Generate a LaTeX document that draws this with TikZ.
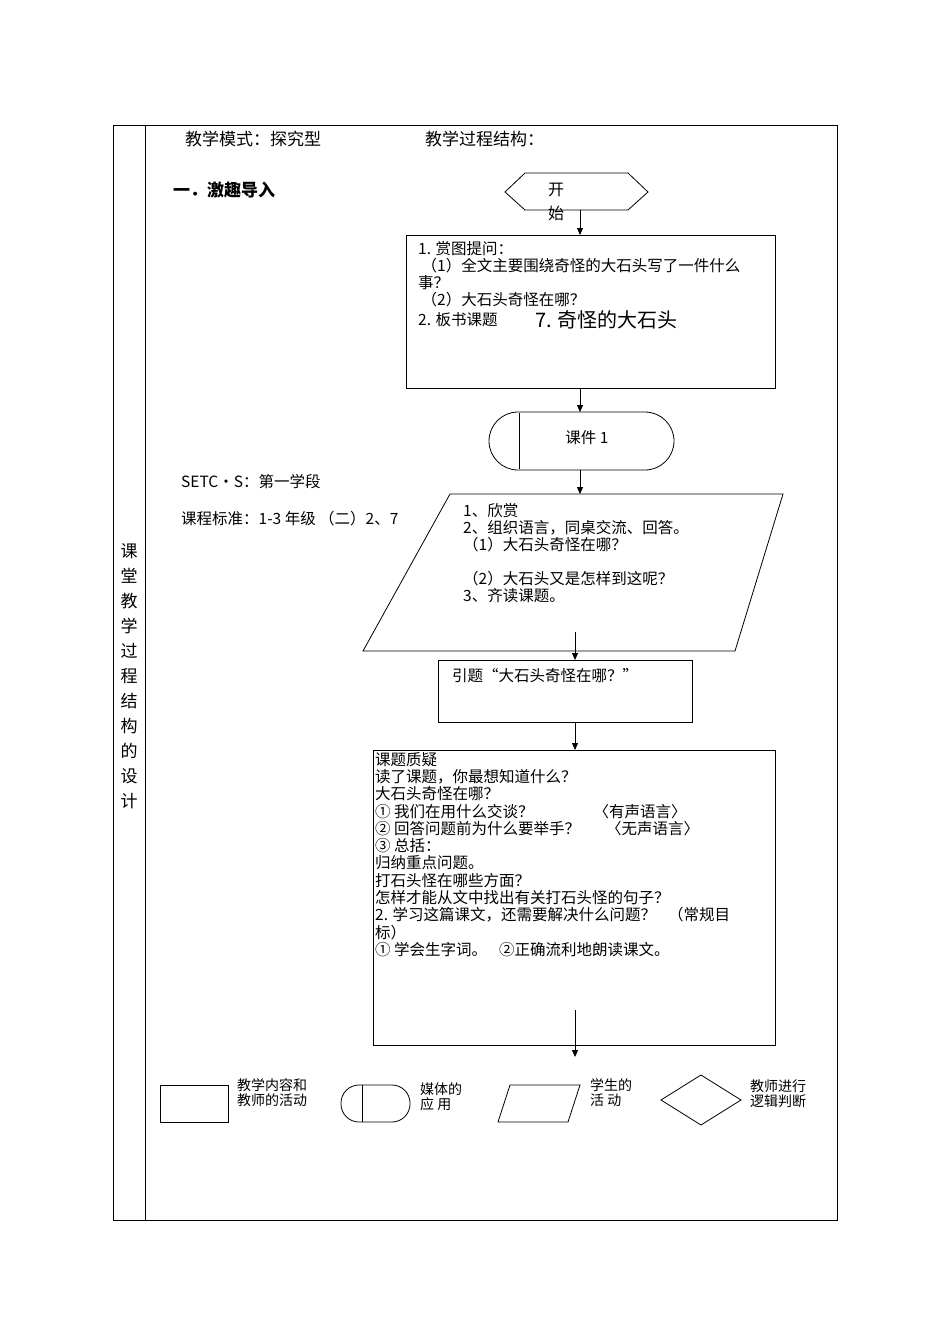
\documentclass[tikz,border=0pt]{standalone}
\usepackage{fontspec}
\setmainfont{Noto Sans CJK SC}
\usetikzlibrary{shapes.geometric,arrows.meta}
\begin{document}
\begin{tikzpicture}[x=1pt,y=-1pt,
  ln/.style={line width=0.8pt},
  arr/.style={ln,-{Triangle[length=7pt,width=6pt]}},
  tx/.style={anchor=north west,inner sep=0pt,font=\fontsize{15.5}{17}\selectfont,align=left},
  lg/.style={anchor=north west,inner sep=0pt,font=\fontsize{14}{15}\selectfont,align=left}]
\useasboundingbox (0,0) rectangle (950,1344);
% table
\draw[ln] (113,125) rectangle (837,1220);
\draw[ln] (145,125) -- (145,1220);
\node[anchor=north,inner sep=0pt,align=center,font=\fontsize{17}{25}\selectfont] (side) at (129,543) {课\\堂\\教\\学\\过\\程\\结\\构\\的\\设\\计};
\node[tx,font=\fontsize{17}{18}\selectfont,anchor=west] (h1) at (185,139) {教学模式：探究型};
\node[tx,font=\fontsize{17}{18}\selectfont,anchor=west] (h2) at (425,139) {教学过程结构：};
\node[tx,font=\bfseries\fontsize{17}{18}\selectfont,anchor=west] (h3) at (173,190) {一．激趣导入};
% start
\draw[ln] (505,192) -- (525,173) -- (628,173) -- (648,192) -- (628,210) -- (525,210) -- cycle;
\node[inner sep=0pt,align=center,font=\fontsize{16}{24}\selectfont] (start) at (556,202) {开\\始};
\coordinate (s0) at (580,210);
% box1
\draw[ln] (406,235) rectangle (775,388);
\coordinate (b1t) at (580,235);
\draw[arr] (s0) -- (b1t);
\node[tx] (t1) at (418,241) {1. 赏图提问：\\\ （1）全文主要围绕奇怪的大石头写了一件什么\\事？\\\ （2）大石头奇怪在哪？\\[3pt]2. 板书课题};
\node[tx,font=\fontsize{20}{20}\selectfont] (t1b) at (535,310) {7. 奇怪的大石头};
% media
\draw[ln,rounded corners=29pt] (489,412) rectangle (674,470);
\draw[ln] (519,413) -- (519,469);
\node[tx,anchor=center] (k1) at (587,438) {课件 1};
\draw[arr] (580,388) -- (580,412);
% parallelogram
\draw[ln] (450,494) -- (783,494) -- (735,651) -- (363,651) -- cycle;
\draw[arr] (580,470) -- (580,494);
\node[tx] (t2) at (463,503) {1、欣赏\\2、组织语言，同桌交流、回答。\\（1）大石头奇怪在哪？\\[17pt]（2）大石头又是怎样到这呢？\\3、齐读课题。};
\node[tx,anchor=west] (l1) at (181,482) {SETC·S：第一学段};
\node[tx,anchor=west] (l2) at (181,519) {课程标准：1-3 年级 （二）2、7};
% box2
\draw[ln] (438,660) rectangle (692,722);
\draw[arr] (575,632) -- (575,660);
\node[tx,anchor=west] (t3) at (452,676) {引题“大石头奇怪在哪？”};
% box3
\draw[ln] (373,750) rectangle (775,1045);
\draw[arr] (575,722) -- (575,750);
\node[tx,font=\fontsize{15.5}{17.3}\selectfont] (t4) at (375,752) {课题质疑\\读了课题，你最想知道什么？\\大石头奇怪在哪？\\① 我们在用什么交谈？\hspace{60pt}〈有声语言〉\\② 回答问题前为什么要举手？\hspace{26pt}〈无声语言〉\\③ 总括：\\归纳重点问题。\\打石头怪在哪些方面？\\怎样才能从文中找出有关打石头怪的句子？\\2. 学习这篇课文，还需要解决什么问题？\hspace{12pt}（常规目\\标）\\① 学会生字词。\hspace{12pt}②正确流利地朗读课文。};
\draw[arr] (575,1010) -- (575,1057);
% legend
\draw[ln] (160,1085) rectangle (228,1122);
\node[lg] (g1) at (237,1078) {教学内容和\\教师的活动};
\draw[ln,rounded corners=18pt] (341,1085) rectangle (410,1122);
\draw[ln] (362,1085) -- (362,1122);
\node[lg] (g2) at (420,1082) {媒体的\\应\ 用};
\draw[ln] (510,1085) -- (580,1085) -- (568,1122) -- (498,1122) -- cycle;
\node[lg] (g3) at (590,1078) {学生的\\活\ 动};
\draw[ln] (661,1100) -- (701,1075) -- (741,1100) -- (701,1125) -- cycle;
\node[lg] (g4) at (750,1080) {教师进行\\逻辑判断};
\end{tikzpicture}
\end{document}
